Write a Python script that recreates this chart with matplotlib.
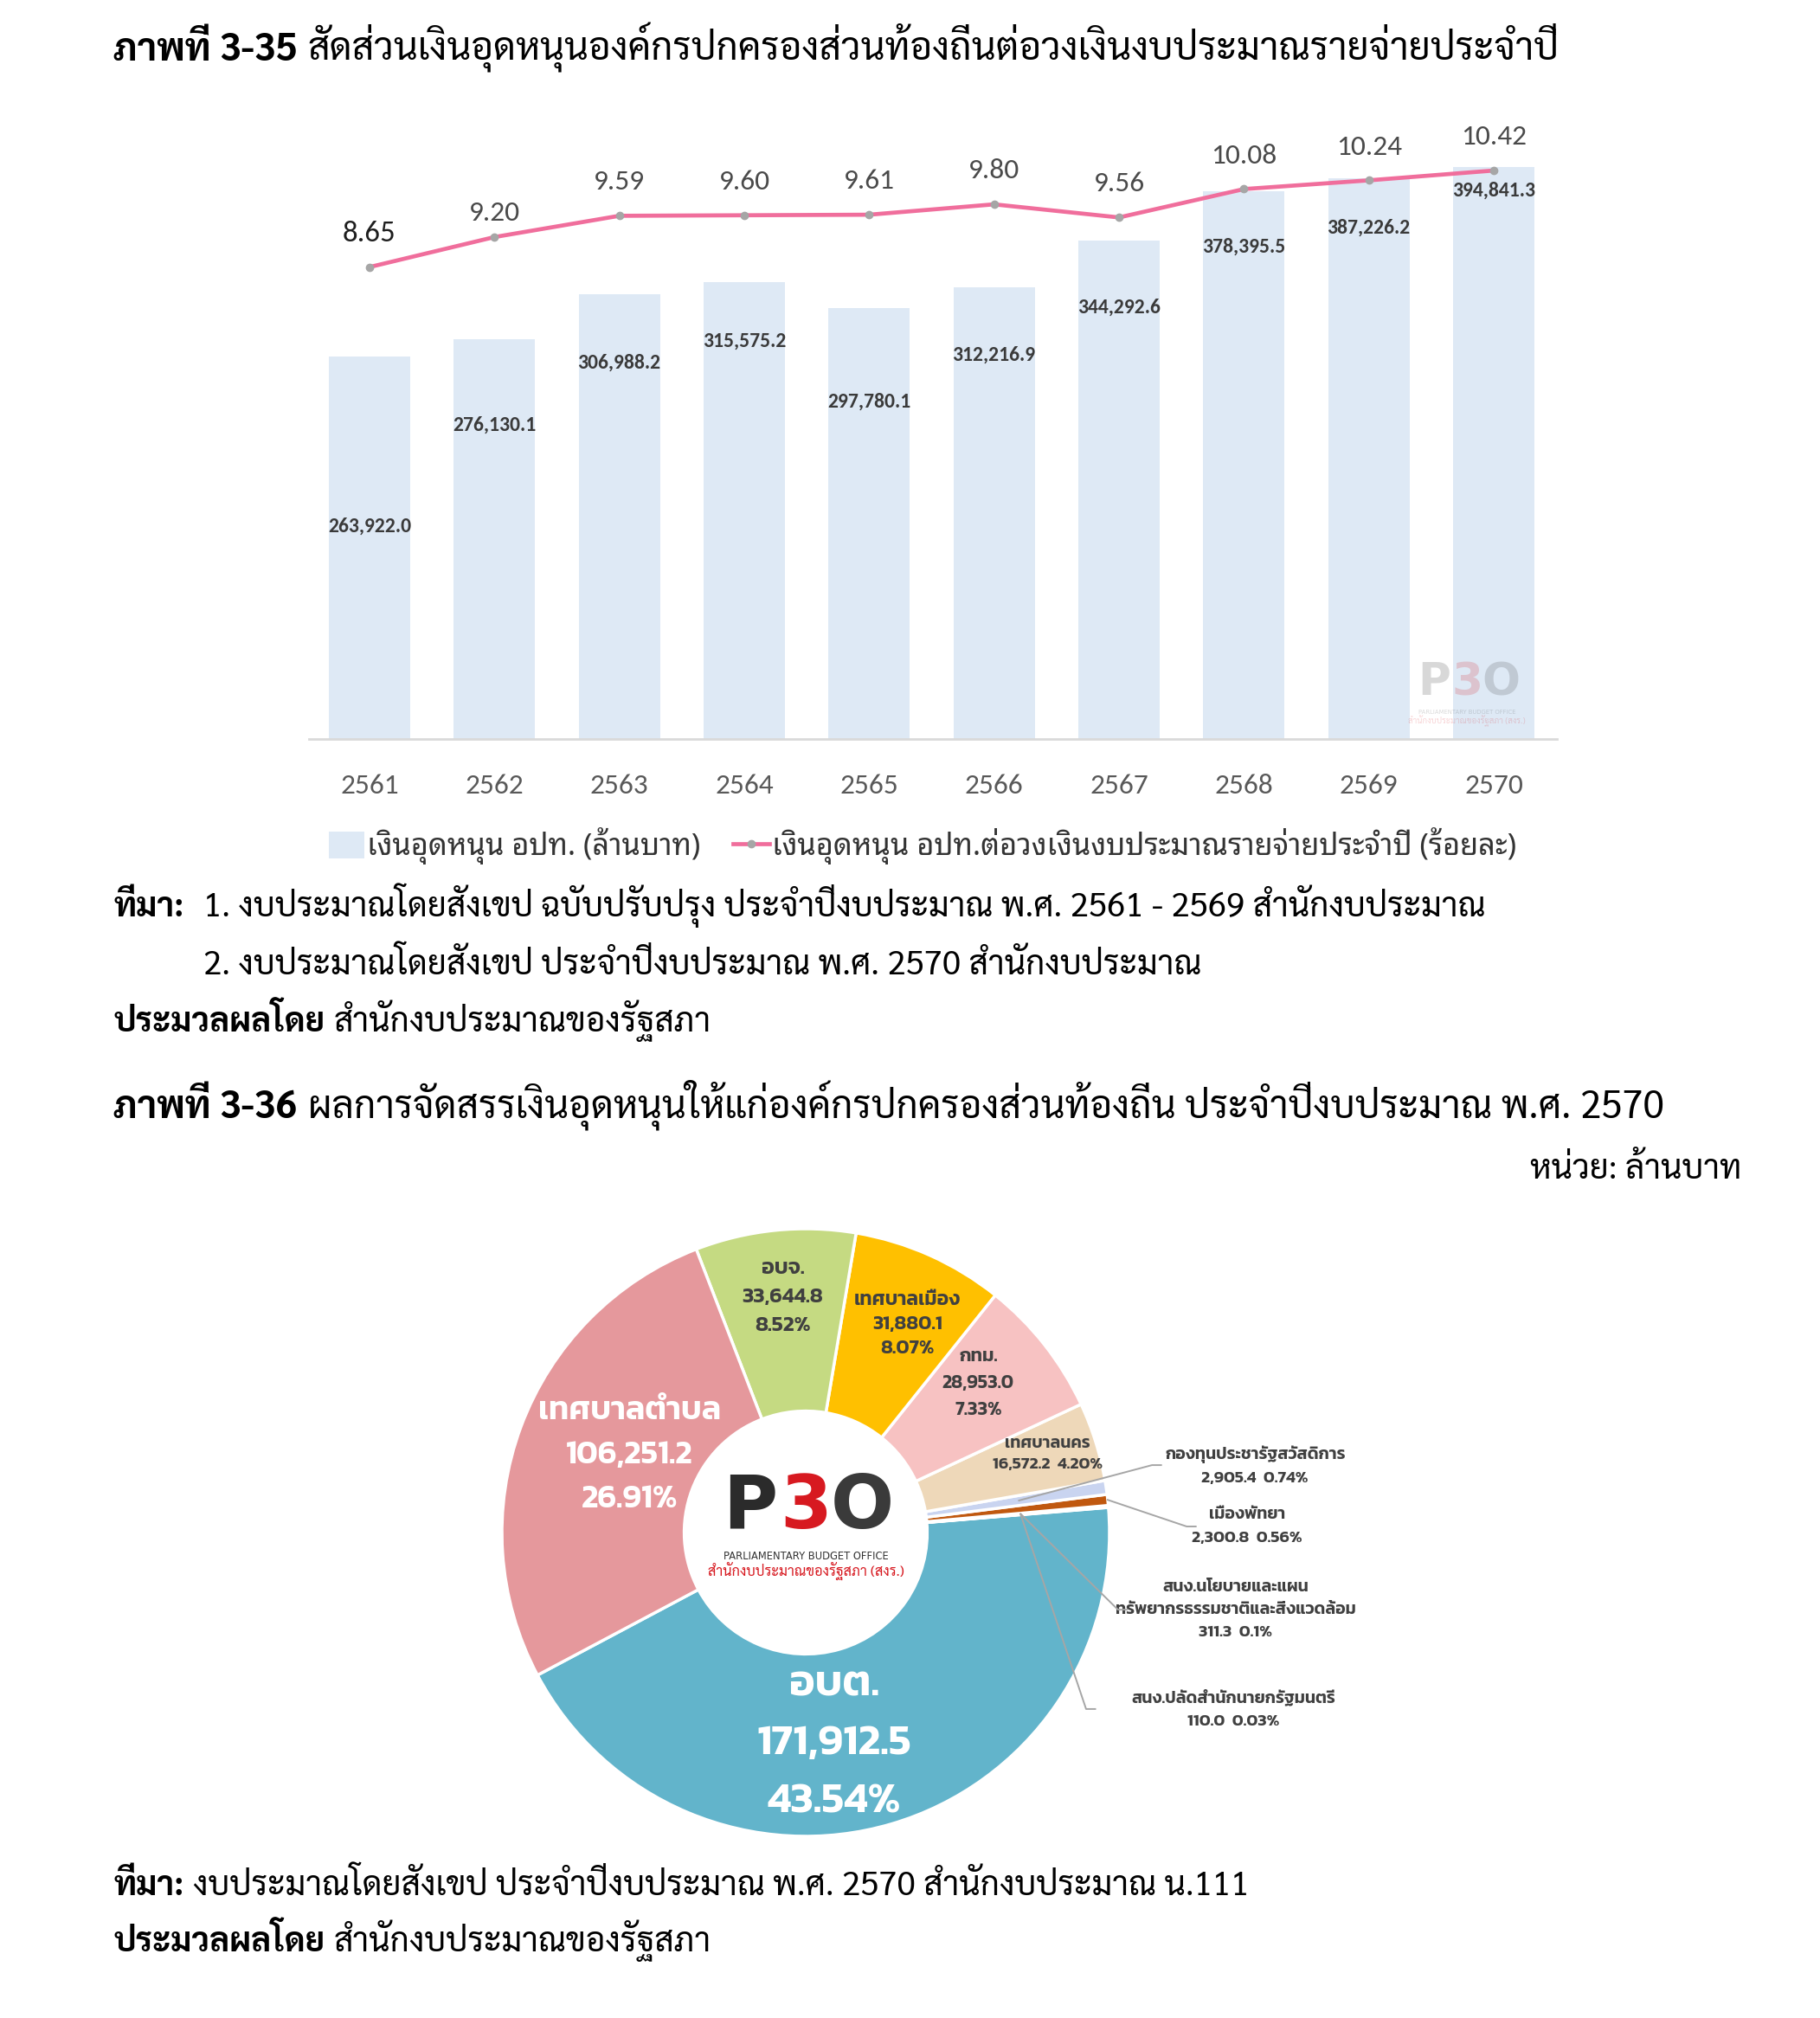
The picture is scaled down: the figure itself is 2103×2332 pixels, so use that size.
import math
import matplotlib
matplotlib.use("Agg")
import matplotlib.pyplot as plt
from matplotlib import font_manager, transforms
from matplotlib.patches import Patch
from matplotlib.lines import Line2D

# ---------------------------------------------------------------
# data
# ---------------------------------------------------------------
years = ["2561", "2562", "2563", "2564", "2565", "2566", "2567", "2568", "2569", "2570"]
subsidy = [263922.0, 276130.1, 306988.2, 315575.2, 297780.1,
           312216.9, 344292.6, 378395.5, 387226.2, 394841.3]
ratio = [8.65, 9.20, 9.59, 9.60, 9.61, 9.80, 9.56, 10.08, 10.24, 10.42]

# where the value labels sit inside the bars (data units) and label offsets of the line
bar_label_y = [147000, 217000, 260000, 275000, 233000, 265000, 298000, 340000, 353000, 379000]
line_label_off = [28, 20, 28, 28, 28, 28, 28, 28, 28, 28]

pie_names = ["อบต.", "สนง.ปลัดสำนักนายกรัฐมนตรี", "สนง.นโยบายและแผน\nทรัพยากรธรรมชาติและสิ่งแวดล้อม",
             "เมืองพัทยา", "กองทุนประชารัฐสวัสดิการ", "เทศบาลนคร", "กทม.",
             "เทศบาลเมือง", "อบจ.", "เทศบาลตำบล"]
pie_values = [171912.5, 110.0, 311.3, 2300.8, 2905.4, 16572.2, 28953.0, 31880.1, 33644.8, 106251.2]
pie_pct = ["43.54%", "0.03%", "0.1%", "0.56%", "0.74%", "4.20%", "7.33%", "8.07%", "8.52%", "26.91%"]
pie_colors = ["#62B4CB", "#9DC3E6", "#F4B183", "#C0580F", "#C9D4F0",
              "#EED8B9", "#F7C2C2", "#FFC000", "#C5DA82", "#E5989C"]

# ---------------------------------------------------------------
# fonts
# ---------------------------------------------------------------
avail = {f.name for f in font_manager.fontManager.ttflist}

def pick(*names):
    for n in names:
        if n in avail:
            return n
    return "DejaVu Sans"

BODY = pick("Sarabun", "Noto Sans Thai Looped", "IBM Plex Sans Thai Looped", "FreeSerif")
PIE = pick("Kanit", "Prompt", "Mitr", "Bai Jamjuree", "Chakra Petch", "IBM Plex Sans Thai")
LEG = pick("Noto Sans Thai Looped", "IBM Plex Sans Thai Looped", "Sarabun")
NUM = pick("Carlito", "Liberation Sans Narrow", "Open Sans")

W, H = 2103, 2332
fig = plt.figure(figsize=(W / 100, H / 100), dpi=100)
rend = fig.canvas.get_renderer()


def rect(x0, y0, x1, y1):
    return [x0 / W, 1 - y1 / H, (x1 - x0) / W, (y1 - y0) / H]


# ---------------------------------------------------------------
# document text (bold lead + regular rest)
# ---------------------------------------------------------------
def rich_line(x, y, parts, size, ha="left"):
    gap = 0.28 * size * 100 / 72
    texts = []
    cx = x
    for s, w in parts:
        t = fig.text(cx / W, 1 - y / H, s, fontsize=size, fontweight=w,
                     family=BODY, va="baseline", ha="left", color="black")
        cx += t.get_window_extent(renderer=rend).width + gap
        texts.append(t)
    width = cx - gap - x
    if ha == "right":
        for t in texts:
            t.set_x(t.get_position()[0] - width / W)
    return texts, width


title1 = [("ภาพที่ 3-35", "bold"),
          ("สัดส่วนเงินอุดหนุนองค์กรปกครองส่วนท้องถิ่นต่อวงเงินงบประมาณรายจ่ายประจำปี", "normal")]
tmp, wdt = rich_line(0, 0, title1, 30)
for t in tmp:
    t.remove()
BS = 30 * 1671 / wdt      # captions
NS = BS / 1.14            # notes / sources

rich_line(131, 70, title1, BS)
rich_line(131, 1059, [("ที่มา:", "bold")], NS)
rich_line(235, 1059, [("1. งบประมาณโดยสังเขป ฉบับปรับปรุง ประจำปีงบประมาณ พ.ศ. 2561 - 2569 สำนักงบประมาณ", "normal")], NS)
rich_line(235, 1126, [("2. งบประมาณโดยสังเขป ประจำปีงบประมาณ พ.ศ. 2570 สำนักงบประมาณ", "normal")], NS)
rich_line(131, 1192, [("ประมวลผลโดย", "bold"), ("สำนักงบประมาณของรัฐสภา", "normal")], NS)
rich_line(131, 1292, [("ภาพที่ 3-36", "bold"),
                      ("ผลการจัดสรรเงินอุดหนุนให้แก่องค์กรปกครองส่วนท้องถิ่น ประจำปีงบประมาณ พ.ศ. 2570", "normal")], BS)
rich_line(2012, 1362, [("หน่วย: ล้านบาท", "normal")], NS, ha="right")
rich_line(131, 2190, [("ที่มา:", "bold"),
                      ("งบประมาณโดยสังเขป ประจำปีงบประมาณ พ.ศ. 2570 สำนักงบประมาณ น.111", "normal")], NS)
rich_line(131, 2255, [("ประมวลผลโดย", "bold"), ("สำนักงบประมาณของรัฐสภา", "normal")], NS)


# ---------------------------------------------------------------
# logo (PBO)
# ---------------------------------------------------------------
def draw_logo(ax, x, y, trans, scale=1.0, alpha=1.0):
    def at(dx, dy):
        return transforms.offset_copy(trans, fig=fig, x=dx * scale, y=dy * scale, units="points")
    kw = dict(ha="center", va="center", fontweight="bold", alpha=alpha, zorder=10, family="DejaVu Sans")
    ax.text(x, y, "P", transform=at(-46, 0), fontsize=62 * scale, color="#2B2B2B", **kw)
    ax.text(x, y, "3", transform=at(0, 0), fontsize=62 * scale, color="#D71920", **kw)
    ax.text(x, y, "O", transform=at(47, 0), fontsize=62 * scale, color="#3A3A3A", **kw)
    ax.text(x, y, "PARLIAMENTARY BUDGET OFFICE", transform=at(0, -40), fontsize=8.3 * scale,
            color="#333333", family="DejaVu Sans", ha="center", va="center", alpha=alpha, zorder=10)
    ax.text(x, y, "สำนักงบประมาณของรัฐสภา (สงร.)", transform=at(0, -53), fontsize=11.7 * scale,
            color="#D71920", family=BODY, ha="center", va="center", alpha=alpha, zorder=10)


# ---------------------------------------------------------------
# bar + line chart
# ---------------------------------------------------------------
bar_color = "#DEE9F5"
pink = "#F06E9C"
x = list(range(len(years)))

ax1 = fig.add_axes(rect(357, 134, 1799, 854))
ax1.bar(x, subsidy, width=0.65, color=bar_color, zorder=1)
ax1.set_xlim(-0.484, 9.505)
ax1.set_ylim(0, 430360)
for s in ["top", "left", "right"]:
    ax1.spines[s].set_visible(False)
ax1.spines["bottom"].set_color("#D9D9D9")
ax1.spines["bottom"].set_linewidth(2)
ax1.set_yticks([])
ax1.set_xticks(x)
ax1.set_xticklabels(years, family=NUM, fontsize=24, color="#595959")
ax1.tick_params(axis="x", length=0, pad=29)

for i, v in enumerate(subsidy):
    ax1.text(i, bar_label_y[i], f"{v:,.1f}", ha="center", va="center",
             family=NUM, fontsize=17, fontweight="bold", color="#3A3A3A")

ax2 = ax1.twinx()
ax2.set_ylim(0, 11.42)
ax2.plot(x, ratio, color=pink, lw=3.4, marker="o", ms=6, mfc="#A6A6A6", mec="#A6A6A6", zorder=3)
for s in ax2.spines.values():
    s.set_visible(False)
ax2.set_yticks([])
for i, v in enumerate(ratio):
    ax2.annotate(f"{v:.2f}", (i, v), xytext=(0, line_label_off[i]), textcoords="offset points",
                 ha="center", va="center", family=NUM, fontsize=25 if i == 0 else 24,
                 color="#1E1E1E" if i == 0 else "#4A4A4A")

draw_logo(ax1, 0.928, 0.09, ax1.transAxes, scale=0.6, alpha=0.18)

handles = [Patch(facecolor=bar_color, edgecolor="none"),
           Line2D([], [], color=pink, lw=3.4, marker="o", ms=6, mfc="#A6A6A6", mec="#A6A6A6")]
labels = ["เงินอุดหนุน อปท. (ล้านบาท)", "เงินอุดหนุน อปท.ต่อวงเงินงบประมาณรายจ่ายประจำปี (ร้อยละ)"]
fig.legend(handles, labels, loc="center", bbox_to_anchor=(1066 / W, 1 - 978 / H), ncol=2,
           frameon=False, prop=dict(family=LEG, size=24.7), labelcolor="#333333",
           handlelength=1.2, handleheight=1.0, handletextpad=0.1, columnspacing=1.1)

# ---------------------------------------------------------------
# donut chart
# ---------------------------------------------------------------
R = 351
cx, cy = 931, 1771
ax3 = fig.add_axes(rect(cx - 1.1 * R, cy - 1.1 * R, cx + 2.0 * R, cy + 1.1 * R))
wedges, _ = ax3.pie(pie_values, colors=pie_colors, startangle=208, counterclock=True, radius=1.0,
                    wedgeprops=dict(width=0.6, edgecolor="white", linewidth=2.5))
ax3.set_xlim(-1.1, 2.0)
ax3.set_ylim(-1.1, 1.1)
ax3.set_aspect("equal")
ax3.axis("off")

# labels inside the ring: (index, x, y, size, colour, line spacing)
inner = [
    (0, 0.093, -0.695, 36, "white", 1.72),
    (9, -0.58, 0.254, 27, "white", 1.66),
    (8, -0.076, 0.775, 18, "#404040", 1.62),
    (7, 0.335, 0.686, 16.5, "#404040", 1.6),
    (6, 0.568, 0.492, 15.7, "#404040", 1.8),
]
for i, lx, ly, fs, col, ls in inner:
    ax3.text(lx, ly, f"{pie_names[i]}\n{pie_values[i]:,.1f}\n{pie_pct[i]}", ha="center", va="center",
             family=PIE, fontsize=fs, fontweight="semibold", color=col, linespacing=ls)

ax3.text(0.797, 0.258, f"{pie_names[5]}\n{pie_values[5]:,.1f}  {pie_pct[5]}", ha="center", va="center",
         family=PIE, fontsize=14, fontweight="semibold", color="#404040", linespacing=1.6)

# outside labels with leader lines: (index, text x, text y, line end x, line end y, start radius)
outer = [
    (4, 1.479, 0.219, 1.14, 0.222, 0.71),
    (3, 1.453, 0.020, 1.254, 0.020, 1.0),
    (2, 1.415, -0.254, 1.028, -0.254, 0.71),
    (1, 1.407, -0.581, 0.923, -0.581, 0.71),
]
for i, tx, ty, ex, ey, r0 in outer:
    w = wedges[i]
    mid = math.radians((w.theta1 + w.theta2) / 2)
    sx, sy = r0 * math.cos(mid), r0 * math.sin(mid)
    ax3.plot([sx, ex, ex + 0.03], [sy, ey, ey], color="#A6A6A6", lw=1.4, zorder=5)
    ax3.text(tx, ty, f"{pie_names[i]}\n{pie_values[i]:,.1f}  {pie_pct[i]}", ha="center", va="center",
             family=PIE, fontsize=14, fontweight="semibold", color="#404040", linespacing=1.7)

draw_logo(ax3, 0.0, 0.08, ax3.transData, scale=1.0, alpha=1.0)

fig.savefig("out.png", dpi=100)
